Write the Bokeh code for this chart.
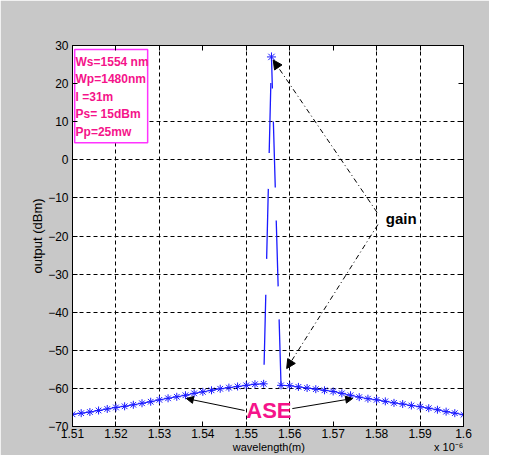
from bokeh.plotting import figure
from bokeh.models import Label, Arrow, NormalHead, LinearAxis, FixedTicker, NumeralTickFormatter, ColumnDataSource
from bokeh.core.properties import value
from bokeh.embed import file_html
from bokeh.resources import INLINE

# ---------------- data ----------------
ase_left_x = [1.510, 1.512, 1.514, 1.516, 1.518, 1.520, 1.522, 1.524, 1.526, 1.528,
              1.530, 1.532, 1.534, 1.536, 1.538, 1.540, 1.542, 1.544, 1.546, 1.548,
              1.550, 1.552, 1.554]
ase_left_y = [-66.8, -66.5, -66.2, -65.8, -65.4, -65.0, -64.7, -64.3, -63.9, -63.5,
              -63.0, -62.6, -62.2, -61.8, -61.3, -60.9, -60.5, -60.1, -59.8, -59.5,
              -59.2, -58.9, -58.8]
ase_right_x = [1.558, 1.560, 1.562, 1.564, 1.566, 1.568, 1.570, 1.572, 1.574, 1.576,
               1.578, 1.580, 1.582, 1.584, 1.586, 1.588, 1.590, 1.592, 1.594, 1.596,
               1.598, 1.600]
ase_right_y = [-59.2, -59.3, -59.6, -59.9, -60.2, -60.5, -60.8, -61.3, -61.8, -62.3,
               -62.7, -63.0, -63.4, -63.8, -64.1, -64.5, -64.8, -65.2, -65.6, -66.1,
               -66.5, -66.9]
# signal trace: left foot, peak, right foot
sig_x = [1.554, 1.5558, 1.558]
sig_y = [-58.8, 27.0, -59.2]

x_ticks = [1.51, 1.52, 1.53, 1.54, 1.55, 1.56, 1.57, 1.58, 1.59, 1.60]
y_ticks = [30, 20, 10, 0, -10, -20, -30, -40, -50, -60, -70]
x_grid = [1.52, 1.53, 1.55, 1.56, 1.58, 1.59]
y_grid = [10, 0, -10, -20, -30, -40, -50, -60]

x_label = "wavelength(m)"
y_label = "output (dBm)"
x_multiplier = "x 10\u207b\u2076"
box_lines = ["Ws=1554 nm", "Wp=1480nm", "l =31m", "Ps= 15dBm", "Pp=25mw"]

FONT = "Liberation Sans"
BLUE = "#1a1aff"
PINK = "#f5138a"

p = figure(width=489, height=455, x_range=(1.51, 1.60), y_range=(-70, 30),
           output_backend="svg", toolbar_location=None,
           min_border_left=72, min_border_right=26, min_border_top=45, min_border_bottom=29)
p.background_fill_color = "white"
p.border_fill_color = "#c8c8c8"
p.outline_line_color = "black"
p.outline_line_width = 1
p.outline_line_alpha = 1

# axes
for ax, ticks in ((p.xaxis[0], x_ticks), (p.yaxis[0], y_ticks)):
    ax.ticker = FixedTicker(ticks=ticks)
    ax.minor_tick_line_color = None
    ax.major_tick_in = 5
    ax.major_tick_out = 0
    ax.axis_line_color = "black"
    ax.major_tick_line_color = "black"
    ax.major_label_text_font = FONT
    ax.major_label_text_font_size = "12px"
    ax.major_label_text_color = "black"
    ax.axis_label_text_font = FONT
    ax.axis_label_text_font_size = "13px"
    ax.axis_label_text_font_style = "normal"
    ax.axis_label_text_color = "black"
p.xaxis[0].formatter = NumeralTickFormatter(format="0.0[0]")
p.xaxis[0].major_label_standoff = 2
p.yaxis[0].axis_label = y_label
p.yaxis[0].major_label_standoff = 4
p.yaxis[0].axis_label_standoff = 0

# second row under the x axis: axis title (centred) and the x10^-6 multiplier
label_row_pos = [1.5552, 1.5966]
label_row = LinearAxis(ticker=FixedTicker(ticks=label_row_pos),
                       major_label_overrides={label_row_pos[0]: x_label,
                                              label_row_pos[1]: x_multiplier},
                       axis_line_color=None, major_tick_line_color=None,
                       minor_tick_line_color=None, major_tick_in=0, major_tick_out=0,
                       major_label_standoff=0, major_label_text_font=FONT,
                       major_label_text_font_size="11px", major_label_text_color="black")
p.add_layout(label_row, "below")

top_ax = LinearAxis(ticker=FixedTicker(ticks=x_ticks), major_tick_in=5, major_tick_out=0,
                    minor_tick_line_color=None, major_label_text_alpha=0,
                    major_label_text_font_size="8px", axis_line_color="black")
right_ax = LinearAxis(ticker=FixedTicker(ticks=y_ticks), major_tick_in=5, major_tick_out=0,
                      minor_tick_line_color=None, major_label_text_alpha=0,
                      major_label_text_font_size="8px", major_label_standoff=2,
                      axis_line_color="black")
p.add_layout(top_ax, "above")
p.add_layout(right_ax, "right")

# grid
p.xgrid.ticker = FixedTicker(ticks=x_grid)
p.ygrid.ticker = FixedTicker(ticks=y_grid)
for g in (p.xgrid, p.ygrid):
    g.grid_line_color = "black"
    g.grid_line_dash = "4 3"
    g.grid_line_width = 1

# ASE curve
p.line(ase_left_x, ase_left_y, line_color=BLUE, line_width=1)
p.line(ase_right_x, ase_right_y, line_color=BLUE, line_width=1)
p.scatter(ase_left_x + ase_right_x, ase_left_y + ase_right_y, marker="asterisk",
          size=8, line_color=BLUE, line_width=1)

# signal trace (dashed look)
p.line(sig_x[0:2], sig_y[0:2], line_color=BLUE, line_width=1.3,
       line_dash="70 36", line_dash_offset=87)
p.line(sig_x[2:0:-1], sig_y[2:0:-1], line_color=BLUE, line_width=1.3, line_dash="66 33")
p.scatter([sig_x[1]], [sig_y[1]], marker="asterisk", size=9, line_color=BLUE, line_width=1)

# parameter box
p.quad(left=1.5105, right=1.5273, top=28.95, bottom=4.5, fill_color="white",
       line_color="#ff33ff", line_width=1.5)
box_y0 = 25.8
box_dy = 4.6
src = ColumnDataSource(dict(x=[1.5107] * len(box_lines),
                            y=[box_y0 - i * box_dy for i in range(len(box_lines))],
                            t=box_lines))
p.text(x="x", y="y", text="t", source=src, text_font=value(FONT), text_font_size="12px",
       text_font_style="bold", text_color=PINK, text_baseline="middle", text_align="left")

# gain annotation
p.add_layout(Label(x=1.5821, y=-15.4, text="gain", text_font=FONT, text_font_size="15px",
                   text_font_style="bold", text_color="black", text_baseline="middle"))
p.add_layout(Arrow(x_start=1.5801, y_start=-13.8, x_end=1.5562, y_end=26.2,
                   line_color="black", line_width=1, line_dash="5 3 1 3",
                   end=NormalHead(size=9, fill_color="black", line_color="black")))
p.add_layout(Arrow(x_start=1.5803, y_start=-17.0, x_end=1.5593, y_end=-54.8,
                   line_color="black", line_width=1, line_dash="5 3 1 3",
                   end=NormalHead(size=9, fill_color="black", line_color="black")))

# ASE annotation
p.add_layout(Label(x=1.5552, y=-65.8, text="ASE", text_font=FONT, text_font_size="22px",
                   text_font_style="bold", text_color=PINK, text_baseline="middle",
                   text_align="center"))
p.add_layout(Arrow(x_start=1.5496, y_start=-65.8, x_end=1.5362, y_end=-62.65,
                   line_color="black", line_width=1,
                   end=NormalHead(size=7, fill_color="black", line_color="black")))
p.add_layout(Arrow(x_start=1.5606, y_start=-65.3, x_end=1.5745, y_end=-62.65,
                   line_color="black", line_width=1,
                   end=NormalHead(size=7, fill_color="black", line_color="black")))

open("out.html", "w").write(file_html(p, INLINE))
